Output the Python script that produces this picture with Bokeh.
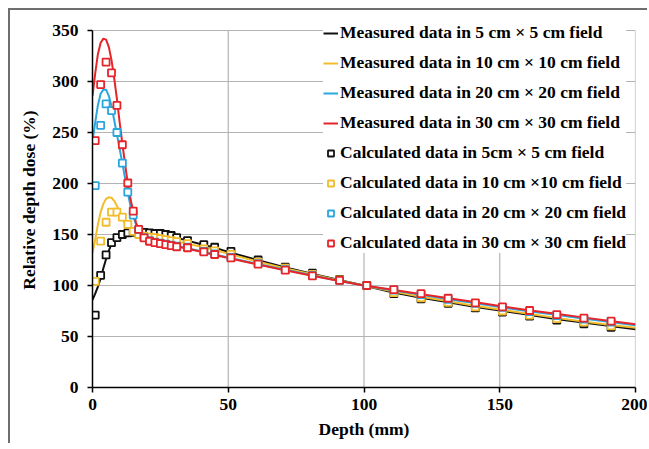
from bokeh.plotting import figure
from bokeh.models import Legend, LegendItem, Range1d, FixedTicker
from bokeh.embed import file_html
from bokeh.resources import INLINE

# ---------------- data ----------------
# Measured curves (depth mm -> relative depth dose %)
meas_x = [0, 1, 2, 3, 4, 5, 6, 7, 8, 9, 10, 11, 12, 13, 14, 15, 16, 17, 18, 19, 20,
          25, 30, 35, 40, 45, 50, 60, 70, 80, 90, 100, 110, 120, 130, 140, 150,
          160, 170, 180, 190, 200]
meas_5 = [86, 92, 99, 107, 117, 126, 134, 141, 145.5, 148, 150, 151, 152, 152.3, 152.5,
          152.5, 152.5, 152.3, 152, 151.8, 151.5,
          150, 147.5, 144, 140.5, 137, 133, 125.5, 118.5, 112, 106, 100, 93.5, 88.5,
          84, 79.5, 75.5, 71.5, 67.5, 64, 60.5, 57]
meas_10 = [132, 145, 160, 172, 180, 185, 186.5, 186, 183, 178, 172, 166, 160, 156, 153,
           152, 151.5, 151.2, 151, 150.5, 150,
           147, 144, 141, 138, 135, 131, 124, 117.5, 111.5, 105.5, 100, 94.5, 89.5,
           85, 80.5, 76.5, 72.5, 68.5, 65, 61.5, 58.5]
meas_20 = [241, 260, 277, 288, 292, 292, 286, 276, 262, 248, 234, 220, 205, 191, 178,
           168, 160, 154, 150, 148, 146,
           142.5, 139.5, 136.5, 133.5, 130.5, 127.5, 121.5, 116, 110.5, 105, 100, 95.5,
           91.5, 87, 83, 79, 75, 71.5, 68, 64.5, 61]
meas_30 = [286, 308, 327, 338, 342, 341, 334, 321, 303, 283, 260, 239, 219, 200, 185,
           172, 162, 155, 150, 147, 146,
           142, 139, 136, 133, 130, 127, 121, 115.5, 110, 105, 100, 96, 92, 88, 84, 80,
           76, 72.5, 69, 65.5, 62]

# Calculated data (squares)
calc_x = [1, 3, 5, 7, 9, 11, 13, 15, 17, 19, 21, 23, 25, 27, 29, 31, 35, 41, 45, 51,
          61, 71, 81, 91, 101, 111, 121, 131, 141, 151, 161, 171, 181, 191]
calc_5 = [71, 110, 130, 142, 147, 150, 151.5, 152, 152, 152, 151.5, 151, 151, 150, 149,
          147, 144, 140, 137.5, 133.5, 125, 118, 112, 106, 100, 92, 87, 82.5, 78, 74,
          70, 66, 62.5, 59]
calc_10 = [104, 143.5, 162, 172, 172, 167, 160, 153, 150, 148.5, 147.5, 147, 146, 145,
           144, 143, 141, 136, 134, 130.5, 123, 117, 111, 105.5, 100, 93, 88, 83.5, 79,
           75, 71, 67.5, 64, 60.5]
calc_20 = [198, 257, 278, 271.5, 250, 220, 191.5, 169, 155, 147, 144, 142.5, 141.5,
           140.5, 139.5, 138.5, 137.5, 133.5, 131, 127.5, 121.5, 115.5, 110, 105, 100,
           95.5, 91, 86.5, 82.5, 78.5, 74.5, 70.5, 67, 64]
calc_30 = [242, 297, 319, 308.5, 276.5, 238, 200.5, 173, 155, 146.7, 143.4, 142, 141,
           140, 139, 138, 137, 133, 130.4, 127, 121, 115, 109.5, 105, 100, 96, 92, 87.5,
           83, 79, 75.5, 71.5, 68, 65]

line_labels = ["Measured data in 5 cm \u00d7 5 cm field",
               "Measured data in 10 cm \u00d7 10 cm field",
               "Measured data in 20 cm \u00d7 20 cm field",
               "Measured data in 30 cm \u00d7 30 cm field"]
calc_labels = ["Calculated data in 5cm \u00d7 5 cm field",
               "Calculated data in 10 cm \u00d710 cm field",
               "Calculated data in 20 cm \u00d7 20 cm field",
               "Calculated data in 30 cm \u00d7 30 cm field"]
colors = ["#111111", "#F2BC2A", "#2AA6DE", "#E5252A"]

x_ticks = [0, 50, 100, 150, 200]
y_ticks = [0, 50, 100, 150, 200, 250, 300, 350]
y_max = 350

FONT = "Liberation Serif"
FS = "17.5px"

# the frame reaches a little above the 350 line so the legend is not clipped
p = figure(width=639, height=435, output_backend="svg", toolbar_location=None,
           x_range=Range1d(0, 200), y_range=Range1d(0, 367.65),
           min_border_left=82, min_border_right=14, min_border_top=2,
           min_border_bottom=58)
p.margin = (8, 0, 0, 8)
p.styles = {"border-top": "2px solid #6e6e6e", "border-left": "2px solid #6e6e6e"}
p.outline_line_color = None
p.background_fill_color = "white"
p.border_fill_color = "white"

for ax, ticks in ((p.xaxis, x_ticks), (p.yaxis, y_ticks)):
    ax.ticker = FixedTicker(ticks=ticks)
    ax.minor_tick_line_color = None
    ax.major_tick_in = 0
    ax.major_tick_out = 5
    ax.axis_line_color = "black"
    ax.axis_line_width = 1.5
    ax.major_tick_line_color = "black"
    ax.major_tick_line_width = 1.5
    ax.major_label_text_font = FONT
    ax.major_label_text_font_style = "bold"
    ax.major_label_text_font_size = FS
    ax.major_label_text_color = "black"
    ax.axis_label_text_font = FONT
    ax.axis_label_text_font_style = "bold"
    ax.axis_label_text_font_size = FS
    ax.axis_label_text_color = "black"

p.yaxis.bounds = (0, y_max)
p.xaxis.axis_label = "Depth (mm)"
p.yaxis.axis_label = "Relative depth dose (%)"
p.xaxis.major_label_standoff = 6
p.yaxis.major_label_standoff = 9
p.xaxis.axis_label_standoff = 6
p.yaxis.axis_label_standoff = 10

p.ygrid.ticker = FixedTicker(ticks=y_ticks)
p.ygrid.grid_line_color = "#b4b4b4"
p.ygrid.grid_line_width = 1.2
p.xgrid.visible = False
# vertical grid lines limited to the 0..350 band
p.segment(x0=x_ticks[1:], y0=[0] * (len(x_ticks) - 1), x1=x_ticks[1:],
          y1=[y_max] * (len(x_ticks) - 1), line_color="#b4b4b4", line_width=1.2)

line_renderers = []
for ys, c in zip([meas_5, meas_10, meas_20, meas_30], colors):
    r = p.line(meas_x, ys, line_color=c, line_width=2)
    line_renderers.append(r)

sq_renderers = []
for ys, c in zip([calc_5, calc_10, calc_20, calc_30], colors):
    r = p.scatter(calc_x, ys, marker="square", size=7, line_color=c, line_width=1.8,
                  fill_color="white")
    sq_renderers.append(r)

items = [LegendItem(label=l, renderers=[r]) for l, r in zip(line_labels, line_renderers)]
items += [LegendItem(label=l, renderers=[r]) for l, r in zip(calc_labels, sq_renderers)]

legend = Legend(items=items, location=(231, 134))
legend.label_text_font = FONT
legend.label_text_font_style = "bold"
legend.label_text_font_size = FS
legend.label_text_color = "black"
legend.label_height = 20
legend.glyph_height = 20
legend.glyph_width = 15
legend.label_standoff = 2
legend.spacing = 9
legend.padding = 9
legend.margin = 0
legend.border_line_color = None
legend.background_fill_color = "white"
legend.background_fill_alpha = 1.0
p.add_layout(legend, "center")

open("out.html", "w").write(file_html(p, INLINE))
